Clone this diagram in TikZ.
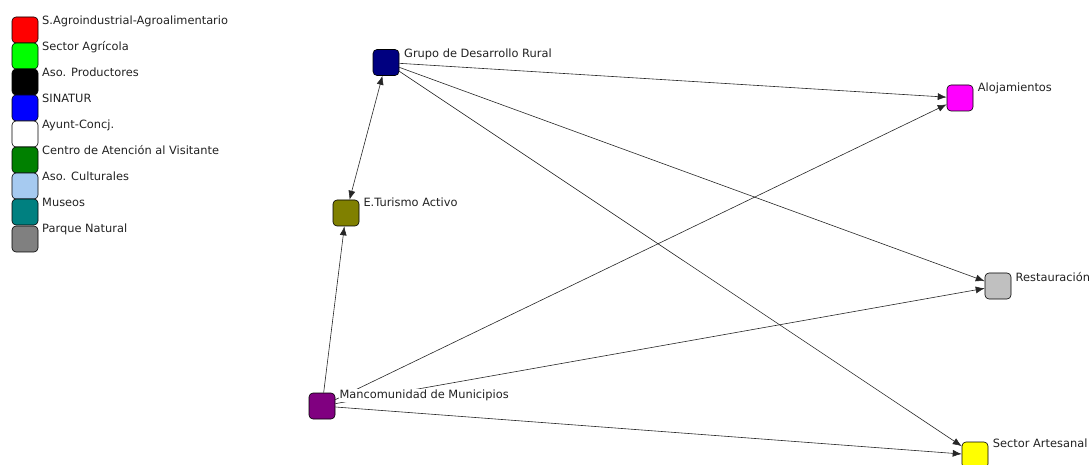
\documentclass[tikz,border=0pt]{standalone}
\usepackage{fontspec}
\setmainfont{DejaVu Sans}
\usetikzlibrary{arrows.meta}
\definecolor{txt}{HTML}{222222}
\definecolor{navyc}{HTML}{000080}
\definecolor{olivec}{HTML}{808000}
\definecolor{magc}{HTML}{FF00FF}
\definecolor{silverc}{HTML}{C0C0C0}
\definecolor{purplec}{HTML}{800080}
\definecolor{yellowc}{HTML}{FFFF00}
\definecolor{limec}{HTML}{00FF00}
\definecolor{bluec}{HTML}{0000FF}
\definecolor{greenc}{HTML}{008000}
\definecolor{lbluec}{HTML}{A6CAF0}
\definecolor{tealc}{HTML}{008080}
\definecolor{grayc}{HTML}{808080}
\begin{document}
\begin{tikzpicture}[x=1pt,y=-1pt,
  box/.style={draw=black, line width=0.6pt, rounded corners=4pt, minimum width=26pt, minimum height=26pt, inner sep=0pt},
  lbl/.style={anchor=base west, inner sep=1pt, fill=white, text=txt, font=\fontsize{11.4}{13}\selectfont},
  leg/.style={anchor=base west, inner sep=0pt, text=txt, font=\fontsize{11.4}{13}\selectfont},
  link/.style={draw=black!85, line width=0.6pt, -{Latex[length=9pt,width=7pt]}},
  blink/.style={draw=black!85, line width=0.6pt, {Latex[length=9pt,width=7pt]}-{Latex[length=9pt,width=7pt]}}
]
\useasboundingbox (0,0) rectangle (1090,465);
% legend
\node[box, fill=red]     (l1) at (25,30) {};
\node[box, fill=limec]   (l2) at (25,56) {};
\node[box, fill=black]   (l3) at (25,82) {};
\node[box, fill=bluec]   (l4) at (25,108) {};
\node[box, fill=white]   (l5) at (25,134) {};
\node[box, fill=greenc]  (l6) at (25,160) {};
\node[box, fill=lbluec]  (l7) at (25,186) {};
\node[box, fill=tealc]   (l8) at (25,212) {};
\node[box, fill=grayc]   (l9) at (25,239) {};
\node[leg] (t1) at (42,25) {S.Agroindustrial-Agroalimentario};
\node[leg] (t2) at (42,51) {Sector Agrícola};
\node[leg] (t3) at (42,77) {Aso. Productores};
\node[leg] (t4) at (42,103) {SINATUR};
\node[leg] (t5) at (42,129) {Ayunt-Concj.};
\node[leg] (t6) at (42,155) {Centro de Atención al Visitante};
\node[leg] (t7) at (42,181) {Aso. Culturales};
\node[leg] (t8) at (42,207) {Museos};
\node[leg] (t9) at (42,233) {Parque Natural};
% network nodes
\node[box, fill=navyc]   (gdr) at (386,62.5) {};
\node[box, fill=olivec]  (et)  at (346,213) {};
\node[box, fill=magc]    (al)  at (960,98) {};
\node[box, fill=silverc] (re)  at (998,286) {};
\node[box, fill=purplec] (mm)  at (322,406) {};
\node[box, fill=yellowc] (sa)  at (975,455) {};
% connectors
\draw[blink] (gdr) -- (et);
\draw[link] (gdr) -- (al);
\draw[link] (gdr) -- (re);
\draw[link] (gdr) -- (sa);
\draw[link] (mm) -- (et);
\draw[link] (mm) -- (al);
\draw[link] (mm) -- (re);
\draw[link] (mm) -- (sa);
% labels
\node[lbl] (gdrl) at (403,57.3) {Grupo de Desarrollo Rural};
\node[lbl] (etl)  at (362.3,206.7) {E.Turismo Activo};
\node[lbl] (all)  at (976.7,91.7) {Alojamientos};
\node[lbl] (rel)  at (1014.5,281.7) {Restauración};
\node[lbl] (mml)  at (338.3,398.3) {Mancomunidad de Municipios};
\node[lbl] (sal)  at (991.7,447.3) {Sector Artesanal};
\end{tikzpicture}
\end{document}
